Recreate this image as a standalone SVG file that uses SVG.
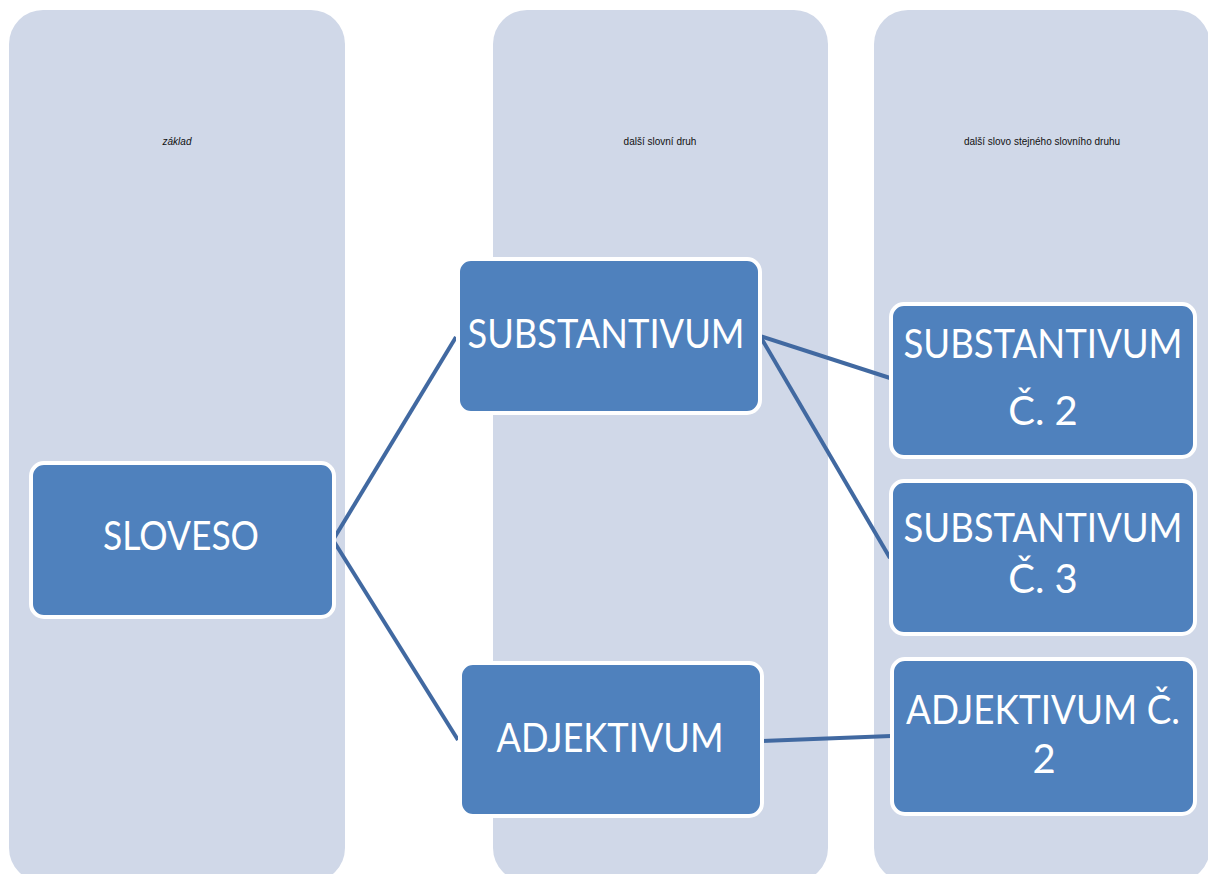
<svg xmlns="http://www.w3.org/2000/svg" width="1208" height="874" viewBox="0 0 1208 874">
<style>
.col{fill:#D0D8E8;}
.node rect{fill:#4F81BD;stroke:#FFFFFF;stroke-width:4;}
.node text{fill:#FFFFFF;font-family:Lato,"Open Sans",sans-serif;font-size:40px;text-anchor:middle;}
.hdr{fill:#111111;font-family:"Liberation Sans",Arial,sans-serif;font-size:10px;text-anchor:middle;}
.conn line{stroke:#4169A1;stroke-width:4;stroke-linecap:butt;}
</style>
<rect width="1208" height="874" fill="#FFFFFF"/>
<g id="columns">
<rect class="col" x="9" y="10" width="336" height="872" rx="34"/>
<rect class="col" x="493" y="10" width="335" height="872" rx="34"/>
<rect class="col" x="874" y="10" width="336" height="872" rx="34"/>
<text class="hdr" x="177" y="145" font-style="italic">základ</text>
<text class="hdr" x="660" y="145">další slovní druh</text>
<text class="hdr" x="1042" y="145">další slovo stejného slovního druhu</text>
</g>
<g id="connectors" class="conn">
<line x1="333" y1="540" x2="456" y2="337"/>
<line x1="333" y1="540" x2="458" y2="740"/>
<line x1="760" y1="336" x2="890" y2="378"/>
<line x1="760" y1="336" x2="890" y2="558"/>
<line x1="762" y1="741" x2="891" y2="736"/>
</g>
<g id="sloveso" class="node">
<rect x="31" y="463" width="303" height="154" rx="13"/>
<text x="181" y="550" textLength="156" lengthAdjust="spacingAndGlyphs">SLOVESO</text>
</g>
<g id="substantivum" class="node">
<rect x="458" y="259" width="302" height="154" rx="13"/>
<text x="606" y="348" textLength="277" lengthAdjust="spacingAndGlyphs">SUBSTANTIVUM</text>
</g>
<g id="adjektivum" class="node">
<rect x="460" y="663" width="302" height="153" rx="13"/>
<text x="610" y="752" textLength="227" lengthAdjust="spacingAndGlyphs">ADJEKTIVUM</text>
</g>
<g id="substantivum2" class="node">
<rect x="891" y="304" width="304" height="153" rx="13"/>
<text x="1043" y="358" textLength="279" lengthAdjust="spacingAndGlyphs">SUBSTANTIVUM</text>
<text x="1043" y="425">Č. 2</text>
</g>
<g id="substantivum3" class="node">
<rect x="891" y="481" width="304" height="153" rx="13"/>
<text x="1043" y="542" textLength="279" lengthAdjust="spacingAndGlyphs">SUBSTANTIVUM</text>
<text x="1043" y="593">Č. 3</text>
</g>
<g id="adjektivum2" class="node">
<rect x="892" y="659" width="303" height="155" rx="13"/>
<text x="1043" y="724" textLength="274" lengthAdjust="spacingAndGlyphs">ADJEKTIVUM Č.</text>
<text x="1044" y="773">2</text>
</g>
</svg>
